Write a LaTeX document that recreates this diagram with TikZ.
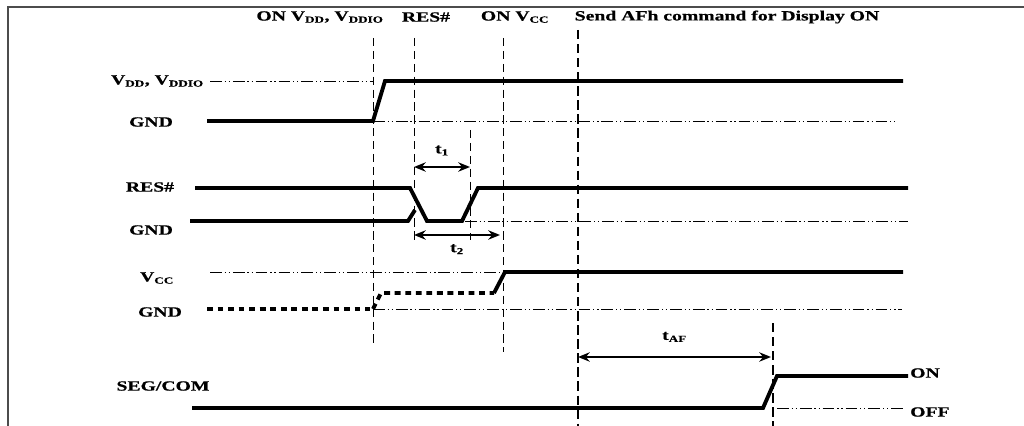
\documentclass[tikz,border=0pt]{standalone}
\usepackage{fontspec}
\setmainfont{Liberation Serif}[FakeStretch=1.4,BoldFeatures={FakeBold=0.6}]
\usetikzlibrary{arrows.meta}
\tikzset{
  sig/.style={line width=3.3pt},
  guide/.style={line width=0.6pt,dash pattern=on 7pt off 4pt},
  guidebold/.style={line width=1.6pt,dash pattern=on 8pt off 4pt},
  level/.style={line width=0.5pt,dash pattern=on 10pt off 2.5pt on 1pt off 2.5pt on 1pt off 2.5pt},
  tarrow/.style={line width=1.7pt,{Stealth[length=10pt,width=8pt]}-{Stealth[length=10pt,width=8pt]}},
  lbl/.style={font=\bfseries\fontsize{12}{14}\selectfont,inner sep=0pt}
}
\begin{document}
\begin{tikzpicture}[x=0.03cm,y=-0.03cm,line cap=butt,line join=miter]
  \useasboundingbox (0,0) rectangle (1024,426);
  % frame
  \draw[line width=1.2pt,black!70] (8,426)--(8,7)--(1024,7);
  % titles
  \node[lbl] (ton) at (320,17) {ON V\textsubscript{DD}, V\textsubscript{DDIO}};
  \node[lbl] (tres) at (426,17) {RES\#};
  \node[lbl] (tvcc) at (515,17) {ON V\textsubscript{CC}};
  \node[lbl] (taf) at (727,17) {Send AFh command for Display ON};
  % signal names
  \node[lbl,anchor=east] (lvdd) at (204,81) {V\textsubscript{DD}, V\textsubscript{DDIO}};
  \node[lbl] (lg1) at (151,122) {GND};
  \node[lbl] (lres) at (150,187) {RES\#};
  \node[lbl] (lg2) at (151,230) {GND};
  \node[lbl] (lvcc) at (157,278) {V\textsubscript{CC}};
  \node[lbl] (lg3) at (160,312) {GND};
  \node[lbl] (lseg) at (163,386) {SEG/COM};
  \node[lbl,anchor=west] (lon) at (910,373) {ON};
  \node[lbl,anchor=west] (loff) at (910,412) {OFF};
  % guides
  \draw[guide] (373,38)--(373,345);
  \draw[guide] (414,38)--(414,243);
  \draw[guide] (470,130)--(470,240);
  \draw[guide] (503,38)--(503,352);
  \draw[guidebold] (578,30)--(578,426);
  \draw[guidebold] (773,323)--(773,426);
  % levels
  \draw[level] (210,81)--(373,81);
  \draw[level] (373,121)--(895,121);
  \draw[level] (465,221)--(908,221);
  \draw[level] (210,272)--(500,272);
  \draw[level] (373,309)--(902,309);
  \draw[level] (777,408)--(905,408);
  % VDD, VDDIO
  \draw[sig] (207,121)--(373,121)--(385,81)--(903,81);
  % RES#
  \draw[sig] (195,188)--(410,188)--(427,221)--(462,221)--(478,188)--(908,188);
  \draw[sig] (190,221)--(408,221)--(415,210);
  % VCC
  \draw[sig,dash pattern=on 5pt off 4pt] (207,309)--(370,309);
  \draw[sig,dash pattern=on 5pt off 4pt] (373,309)--(381,293)--(494,293);
  \draw[sig] (494,293)--(505,272)--(903,272);
  % SEG/COM
  \draw[sig] (192,408)--(763,408)--(777,376)--(908,376);
  % timing
  \draw[tarrow] (414,167)--(470,167) node[lbl,midway,above=9pt] (tone) {t\textsubscript{1}};
  \draw[tarrow] (414,235)--(500,235) node[lbl,midway,below=7pt] (ttwo) {t\textsubscript{2}};
  \draw[tarrow] (578,357)--(771,357) node[lbl,midway,above=12pt] (tafl) {t\textsubscript{AF}};
\end{tikzpicture}
\end{document}
